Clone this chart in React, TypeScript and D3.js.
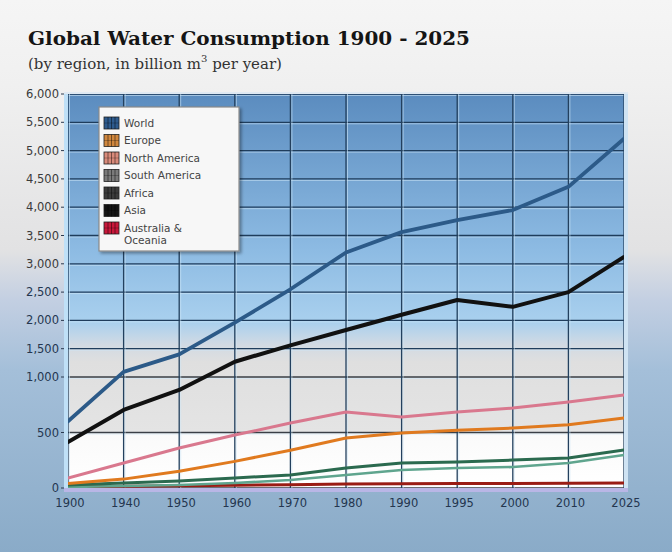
import React from "react";
import * as d3 from "d3";

const years = ["1900", "1940", "1950", "1960", "1970", "1980", "1990", "1995", "2000", "2010", "2025"];
const yTicks = [0, 500, 1000, 1500, 2000, 2500, 3000, 3500, 4000, 4500, 5000, 5500, 6000];

const world = [600, 1090, 1400, 1960, 2550, 3200, 3560, 3770, 3950, 4360, 5210];
const europe = [40, 80, 150, 240, 340, 450, 495, 520, 540, 570, 630];
const northAmerica = [90, 225, 360, 477, 585, 685, 640, 685, 720, 775, 838];
const southAmerica = [9, 18, 27, 45, 72, 117, 162, 180, 189, 225, 297];
const africa = [27, 45, 63, 90, 117, 180, 225, 234, 252, 270, 342];
const asia = [414, 703, 883, 1270, 1560, 1830, 2100, 2360, 2240, 2500, 3120];
const australia = [10, 15, 20, 25, 30, 35, 38, 40, 40, 42, 45];

const legendNames = ["World", "Europe", "North America", "South America", "Africa", "Asia", "Australia &"];
const legendSwatch = ["#2e5b8e", "#d0873e", "#d98a7a", "#7a7a7a", "#3c3c3c", "#141414", "#c8173a"];

const series = [
  { name: "Australia & Oceania", values: australia, color: "#9a1c14", width: 3 },
  { name: "South America", values: southAmerica, color: "#5fa58e", width: 2.6 },
  { name: "Africa", values: africa, color: "#2b6a4f", width: 3 },
  { name: "Europe", values: europe, color: "#e07a1f", width: 3 },
  { name: "North America", values: northAmerica, color: "#d9788e", width: 3 },
  { name: "Asia", values: asia, color: "#111111", width: 4 },
  { name: "World", values: world, color: "#2c5a88", width: 3.8 },
];

export default function App() {
  const W = 672;
  const H = 552;
  const left = 68, right = 624, top = 94, bottom = 488;
  const x = d3.scalePoint<string>().domain(years).range([left, right]);
  const y = d3.scaleLinear().domain([0, 1000, 6000]).range([bottom, 377, top]);
  const line = d3
    .line<number>()
    .x((_, i) => x(years[i]) as number)
    .y((d) => y(d))
    .curve(d3.curveLinear);
  const fmt = d3.format(",");

  return (
    <svg width={W} height={H} style={{ position: "absolute", left: 0, top: 0, display: "block" }}>
      <defs>
        <linearGradient id="pageBg" gradientUnits="userSpaceOnUse" x1="0" y1="0" x2="0" y2={H}>
          <stop offset={0} stopColor="#f5f5f5" />
          <stop offset={85 / H} stopColor="#f0f0f0" />
          <stop offset={250 / H} stopColor="#e2e2e3" />
          <stop offset={300 / H} stopColor="#c3cfe2" />
          <stop offset={370 / H} stopColor="#a4bfd9" />
          <stop offset={1} stopColor="#8aabc8" />
        </linearGradient>
        <linearGradient id="plotBg" gradientUnits="userSpaceOnUse" x1="0" y1={top} x2="0" y2={bottom}>
          <stop offset={0} stopColor="#5b8cbf" />
          <stop offset={(250 - top) / (bottom - top)} stopColor="#8dbbe3" />
          <stop offset={(322 - top) / (bottom - top)} stopColor="#a9d0ee" />
          <stop offset={(345 - top) / (bottom - top)} stopColor="#d2dae3" />
          <stop offset={(362 - top) / (bottom - top)} stopColor="#dfdfdf" />
          <stop offset={(431 - top) / (bottom - top)} stopColor="#e4e4e4" />
          <stop offset={(433 - top) / (bottom - top)} stopColor="#fafafa" />
          <stop offset={1} stopColor="#ffffff" />
        </linearGradient>
        <clipPath id="plotClip">
          <rect x={left} y={top - 2} width={right - left} height={bottom - top + 2} />
        </clipPath>
        <filter id="shadow" x="-10%" y="-10%" width="130%" height="130%">
          <feDropShadow dx="2" dy="2" stdDeviation="1.5" floodColor="#000" floodOpacity="0.35" />
        </filter>
      </defs>

      <rect x={0} y={0} width={W} height={H} fill="url(#pageBg)" />

      {/* Title */}
      <text x={28} y={45} fontFamily="'DejaVu Serif', serif" fontWeight="bold" fontSize={18.5} fill="#151515"
        textLength={442} lengthAdjust="spacingAndGlyphs">
        Global Water Consumption 1900 - 2025
      </text>
      <text x={28} y={69} fontFamily="'DejaVu Serif', serif" fontSize={15} fill="#333">
        (by region, in billion m
        <tspan dy={-7} fontSize={10}>3</tspan>
        <tspan dy={7}> per year)</tspan>
      </text>

      {/* Plot area */}
      <rect x={left} y={top} width={right - left} height={bottom - top} fill="url(#plotBg)" />

      {/* horizontal grid */}
      {yTicks.map((t) => (
        <g key={"h" + t}>
          <line x1={left} x2={right} y1={y(t) + 1.5} y2={y(t) + 1.5} stroke="#cfe6f7" strokeOpacity={0.6} strokeWidth={1} />
          <line x1={left} x2={right} y1={y(t)} y2={y(t)} stroke={t <= 1000 ? "#3a3f46" : "#1f3d5c"} strokeWidth={1.3} />
        </g>
      ))}
      {/* vertical grid */}
      {years.map((yr) => (
        <g key={"v" + yr}>
          <line x1={(x(yr) as number) + 1.5} x2={(x(yr) as number) + 1.5} y1={top} y2={bottom} stroke="#cfe6f7" strokeOpacity={0.6} strokeWidth={1} />
          <line x1={x(yr) as number} x2={x(yr) as number} y1={top} y2={bottom} stroke={"#23405e"} strokeWidth={1.3} />
        </g>
      ))}

      {/* frame */}
      <rect x={left - 4} y={top} width={4} height={bottom - top + 4} fill="#bfe0f7" />
      <rect x={right} y={top} width={4} height={bottom - top + 4} fill="#cfe3f3" />
      <rect x={left - 4} y={bottom} width={right - left + 8} height={4} fill="#b9b6e6" />
      <line x1={left - 4} x2={right + 4} y1={top - 1} y2={top - 1} stroke="#dfe9f2" strokeWidth={2} />

      {/* lines */}
      <g clipPath="url(#plotClip)">
        {series.map((s) => (
          <path key={s.name} d={line(s.values) as string} fill="none" stroke={s.color} strokeWidth={s.width}
            strokeLinejoin="round" strokeLinecap="round" />
        ))}
      </g>

      {/* y axis */}
      {yTicks.map((t) => (
        <g key={"yl" + t}>
          <line x1={61} x2={left - 4} y1={y(t)} y2={y(t)} stroke="#2a3a50" strokeWidth={1} />
          <text x={59} y={y(t)} dy="0.35em" textAnchor="end" fontFamily="'DejaVu Sans', sans-serif" fontSize={11.5}
            fill={t >= 3000 ? "#3a3a3a" : "#24364f"}>
            {fmt(t)}
          </text>
        </g>
      ))}

      {/* x axis */}
      {years.map((yr) => (
        <text key={"xl" + yr} x={(x(yr) as number) + 2} y={503} dy="0.35em" textAnchor="middle"
          fontFamily="'DejaVu Sans', sans-serif" fontSize={11.5} fill="#24364f">
          {yr}
        </text>
      ))}

      {/* legend */}
      <g>
        <rect x={99} y={107} width={140} height={144} fill="#f7f7f7" stroke="#8a8a8a" strokeWidth={1.2} filter="url(#shadow)" />
        {legendNames.map((n, i) => {
          const cy = 123 + i * 17.5;
          return (
            <g key={"lg" + n}>
              <rect x={104} y={cy - 6} width={15} height={12} fill={legendSwatch[i]} stroke="#222" strokeWidth={0.8} />
              {[108, 111.5, 115].map((lx) => (
                <line key={lx} x1={lx} x2={lx} y1={cy - 6} y2={cy + 6} stroke="#000" strokeOpacity={0.45} strokeWidth={1} />
              ))}
              <line x1={104} x2={119} y1={cy} y2={cy} stroke="#000" strokeOpacity={0.3} strokeWidth={0.8} />
              <text x={124} y={cy} dy="0.35em" fontFamily="'DejaVu Sans', sans-serif" fontSize={10.5} fill="#444">
                {n}
              </text>
            </g>
          );
        })}
        <text x={124} y={123 + 6 * 17.5 + 12} dy="0.35em" fontFamily="'DejaVu Sans', sans-serif" fontSize={10.5} fill="#444">
          Oceania
        </text>
      </g>
    </svg>
  );
}
